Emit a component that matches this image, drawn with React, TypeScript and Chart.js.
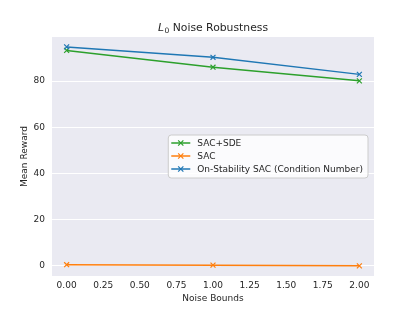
import React, { useEffect, useRef } from "react";
import { Chart, registerables } from "chart.js";

Chart.register(...registerables);

// ---- data ----
const noiseBounds = [0, 1, 2];
const sacSde = [93.3, 86.0, 80.1];
const sac = [0.4, 0.2, -0.1];
const onStability = [94.8, 90.3, 82.9];
const xTicks = [0, 0.25, 0.5, 0.75, 1, 1.25, 1.5, 1.75, 2];
const yTicks = [0, 20, 40, 60, 80];
const seriesLabels = ["SAC+SDE", "SAC", "On-Stability SAC (Condition Number)"];
const seriesColors = ["#2ca02c", "#ff7f0e", "#1f77b4"];

const FONT = '"DejaVu Sans", Verdana, sans-serif';
const TEXT = "#262626";

const bgPlugin = {
  id: "axesBg",
  beforeDraw(chart: any) {
    const { ctx, chartArea } = chart;
    ctx.save();
    ctx.fillStyle = "#EAEAF2";
    ctx.fillRect(chartArea.left, chartArea.top, chartArea.right - chartArea.left, chartArea.bottom - chartArea.top);
    ctx.restore();
  },
};

const titlePlugin = {
  id: "mplTitle",
  afterDraw(chart: any) {
    const { ctx, chartArea } = chart;
    const fs = 10.8;
    const fIt = `italic ${fs}px ${FONT}`;
    const fSub = `${fs * 0.7}px ${FONT}`;
    const fMain = `${fs}px ${FONT}`;
    const rest = " Noise Robustness";
    ctx.save();
    ctx.fillStyle = TEXT;
    ctx.textBaseline = "alphabetic";
    ctx.textAlign = "left";
    ctx.font = fIt;
    const wL = ctx.measureText("L").width;
    ctx.font = fSub;
    const w0 = ctx.measureText("0").width;
    ctx.font = fMain;
    const wR = ctx.measureText(rest).width;
    const total = wL + 0.5 + w0 + wR;
    const cx = (chartArea.left + chartArea.right) / 2;
    let x = cx - total / 2;
    const base = chartArea.top - 6.5;
    ctx.font = fIt;
    ctx.fillText("L", x, base);
    x += wL + 0.5;
    ctx.font = fSub;
    ctx.fillText("0", x, base + 2.2);
    x += w0;
    ctx.font = fMain;
    ctx.fillText(rest, x, base);
    ctx.restore();
  },
};

const legendPlugin = {
  id: "mplLegend",
  afterDraw(chart: any) {
    const { ctx, chartArea } = chart;
    const fs = 9;
    ctx.save();
    ctx.font = `${fs}px ${FONT}`;
    let maxW = 0;
    seriesLabels.forEach((l) => {
      maxW = Math.max(maxW, ctx.measureText(l).width);
    });
    const rowH = 13;
    const padX = 3;
    const handleW = 19;
    const gap = 7;
    const boxW = padX + handleW + gap + maxW + 5;
    const boxH = 43;
    const boxRight = chartArea.right - 6;
    const boxX = boxRight - boxW;
    const boxY = 135;
    // box
    const r = 3;
    ctx.beginPath();
    ctx.moveTo(boxX + r, boxY);
    ctx.lineTo(boxX + boxW - r, boxY);
    ctx.quadraticCurveTo(boxX + boxW, boxY, boxX + boxW, boxY + r);
    ctx.lineTo(boxX + boxW, boxY + boxH - r);
    ctx.quadraticCurveTo(boxX + boxW, boxY + boxH, boxX + boxW - r, boxY + boxH);
    ctx.lineTo(boxX + r, boxY + boxH);
    ctx.quadraticCurveTo(boxX, boxY + boxH, boxX, boxY + boxH - r);
    ctx.lineTo(boxX, boxY + r);
    ctx.quadraticCurveTo(boxX, boxY, boxX + r, boxY);
    ctx.closePath();
    ctx.fillStyle = "rgba(255,255,255,0.8)";
    ctx.fill();
    ctx.strokeStyle = "#cccccc";
    ctx.lineWidth = 1;
    ctx.stroke();
    seriesLabels.forEach((label, i) => {
      const y = boxY + 8 + i * rowH;
      const hx = boxX + padX;
      ctx.strokeStyle = seriesColors[i];
      ctx.lineWidth = 1.5;
      ctx.beginPath();
      ctx.moveTo(hx, y);
      ctx.lineTo(hx + handleW, y);
      ctx.stroke();
      const mx = hx + handleW / 2;
      const m = 2.6;
      ctx.lineWidth = 1.2;
      ctx.beginPath();
      ctx.moveTo(mx - m, y - m);
      ctx.lineTo(mx + m, y + m);
      ctx.moveTo(mx - m, y + m);
      ctx.lineTo(mx + m, y - m);
      ctx.stroke();
      ctx.fillStyle = TEXT;
      ctx.textAlign = "left";
      ctx.textBaseline = "middle";
      ctx.fillText(label, hx + handleW + gap, y + 0.5);
    });
    ctx.restore();
  },
};

export default function App() {
  const ref = useRef<HTMLCanvasElement | null>(null);
  useEffect(() => {
    document.body.style.margin = "0";
    const canvas = ref.current!;
    const series = [sacSde, sac, onStability];
    const orders = [2, 1, 0];
    const chart = new Chart(canvas, {
      type: "line",
      data: {
        datasets: series.map((vals, i) => ({
          label: seriesLabels[i],
          data: noiseBounds.map((x, j) => ({ x, y: vals[j] })),
          borderColor: seriesColors[i],
          backgroundColor: seriesColors[i],
          borderWidth: 1.5,
          pointStyle: "crossRot",
          pointRadius: 3.5,
          pointBorderWidth: 1.2,
          pointBorderColor: seriesColors[i],
          fill: false,
          tension: 0,
          order: orders[i],
        })),
      },
      options: {
        animation: false,
        responsive: false,
        maintainAspectRatio: false,
        devicePixelRatio: 1,
        layout: { padding: { top: 37, right: 41, left: 0, bottom: 0 } },
        plugins: {
          legend: { display: false },
          title: { display: false },
          tooltip: { enabled: false },
        },
        scales: {
          x: {
            type: "linear",
            min: -0.1,
            max: 2.1,
            afterBuildTicks: (s: any) => {
              s.ticks = xTicks.map((v) => ({ value: v }));
            },
            afterFit: (s: any) => {
              s.height = 35;
            },
            grid: { display: false, drawTicks: false },
            border: { display: false },
            ticks: {
              color: TEXT,
              font: { family: FONT, size: 9 },
              padding: 4,
              maxRotation: 0,
              autoSkip: false,
              callback: (v: any) => Number(v).toFixed(2),
            },
            title: {
              display: true,
              text: "Noise Bounds",
              color: TEXT,
              font: { family: FONT, size: 9 },
              padding: { top: 0, bottom: 6.6 },
            },
          },
          y: {
            type: "linear",
            min: -4.5,
            max: 99.1,
            afterBuildTicks: (s: any) => {
              s.ticks = yTicks.map((v) => ({ value: v }));
            },
            afterFit: (s: any) => {
              s.width = 52;
            },
            grid: { display: true, color: "#ffffff", lineWidth: 1, drawTicks: false },
            border: { display: false },
            ticks: {
              color: TEXT,
              font: { family: FONT, size: 9 },
              padding: 7,
              autoSkip: false,
              callback: (v: any) => String(v),
            },
            title: {
              display: true,
              text: "Mean Reward",
              color: TEXT,
              font: { family: FONT, size: 9 },
              padding: { top: 19.6, bottom: 0 },
            },
          },
        },
      },
      plugins: [bgPlugin, titlePlugin, legendPlugin],
    } as any);
    return () => chart.destroy();
  }, []);
  return (
    <div style={{ width: 415, height: 311, background: "#ffffff" }}>
      <canvas ref={ref} width={415} height={311} style={{ width: 415, height: 311, display: "block" }} />
    </div>
  );
}
